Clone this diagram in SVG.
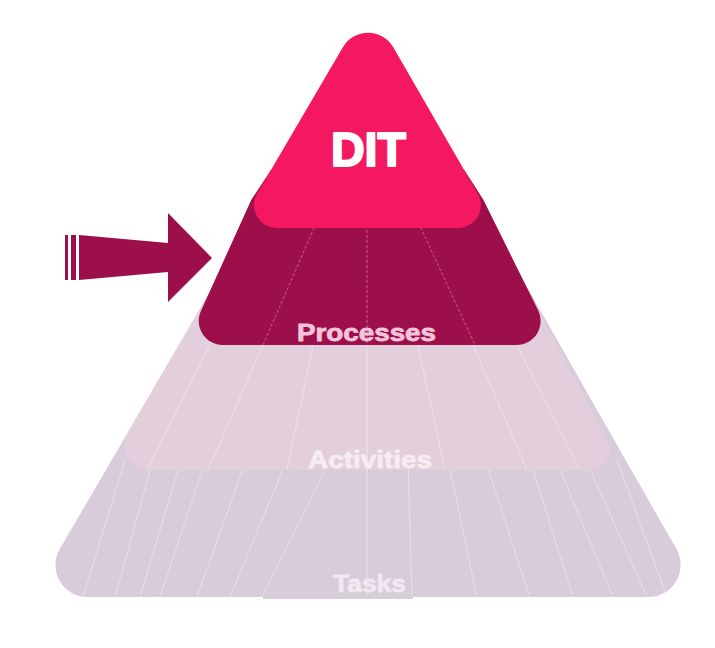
<svg xmlns="http://www.w3.org/2000/svg" width="715" height="648" viewBox="0 0 715 648">
<style>
.lbl{font-family:"Liberation Sans",Arial,sans-serif;font-weight:bold;stroke-linejoin:round}
.grid line{stroke:#ffffff;stroke-width:0.9}
.gl{stroke-opacity:0.45}
.gp{stroke-opacity:0.4}
</style>
<defs>
<clipPath id="cTasks"><path d="M 240.2 240 L 500.2 240 L 676.4 549.1 A 32 32 0 0 1 648.6 597 L 87.4 597 A 32 32 0 0 1 59.8 548.9 Z"/></clipPath>
<clipPath id="cAct"><path d="M 240.2 240 L 501.2 240 L 607.6 440.7 A 20 20 0 0 1 589.9 470 L 149.5 470 A 25 25 0 0 1 127.9 432.4 Z"/></clipPath>
<clipPath id="cProc"><path d="M 271 170 L 464.3 170 L 483.5 200 L 538.1 310.3 A 24 24 0 0 1 516.6 345 L 222.7 345 A 24 24 0 0 1 200.9 311.1 L 251.2 200 Z"/></clipPath>
</defs>
<rect width="715" height="648" fill="#ffffff"/>

<g id="tasks">
<path d="M 240.2 240 L 500.2 240 L 676.4 549.1 A 32 32 0 0 1 648.6 597 L 87.4 597 A 32 32 0 0 1 59.8 548.9 Z" fill="#D8CCDA"/>
<rect x="263" y="560" width="150" height="39" fill="#D8CCDA"/>
<g class="grid gl" clip-path="url(#cTasks)">
<line x1="125" y1="460" x2="83" y2="597"/>
<line x1="153" y1="460" x2="115" y2="597"/>
<line x1="181" y1="460" x2="140" y2="597"/>
<line x1="206" y1="460" x2="160" y2="597"/>
<line x1="246" y1="460" x2="197" y2="597"/>
<line x1="287" y1="460" x2="230" y2="597"/>
<line x1="330" y1="460" x2="262" y2="597"/>
<line x1="367" y1="460" x2="367" y2="597"/>
<line x1="408" y1="460" x2="412" y2="597"/>
<line x1="448" y1="460" x2="477" y2="597"/>
<line x1="485" y1="460" x2="530" y2="597"/>
<line x1="530" y1="460" x2="573" y2="597"/>
<line x1="556" y1="460" x2="613" y2="597"/>
<line x1="586" y1="460" x2="647" y2="597"/>
<line x1="617" y1="460" x2="667" y2="597"/>
</g>
</g>

<g id="activities">
<path d="M 240.2 240 L 501.2 240 L 607.6 440.7 A 20 20 0 0 1 589.9 470 L 149.5 470 A 25 25 0 0 1 127.9 432.4 Z" fill="#E3CFDC"/>
<g class="grid gl" clip-path="url(#cAct)">
<line x1="188.4" y1="300" x2="100" y2="470"/>
<line x1="232.7" y1="300" x2="147" y2="470"/>
<line x1="282.8" y1="300" x2="208" y2="470"/>
<line x1="322.4" y1="300" x2="287" y2="470"/>
<line x1="367" y1="300" x2="367" y2="470"/>
<line x1="408.3" y1="300" x2="445" y2="470"/>
<line x1="453.6" y1="300" x2="527" y2="470"/>
<line x1="494.3" y1="300" x2="580" y2="470"/>
</g>
</g>

<g id="processes">
<path d="M 271 170 L 464.3 170 L 483.5 200 L 538.1 310.3 A 24 24 0 0 1 516.6 345 L 222.7 345 A 24 24 0 0 1 200.9 311.1 L 251.2 200 Z" fill="#9D0F4B"/>
<g class="grid gp" clip-path="url(#cProc)">
<line x1="326.2" y1="200" x2="263" y2="345" stroke-dasharray="3 2"/>
<line x1="367" y1="200" x2="367" y2="345" stroke-dasharray="3 2"/>
<line x1="408" y1="200" x2="475" y2="345" stroke-dasharray="3 2"/>
</g>
</g>

<g id="dit">
<path d="M 342.9 47.3 A 29 29 0 0 1 393.4 47.5 L 477.7 193.5 A 23 23 0 0 1 457.8 228 L 277.2 228 A 23 23 0 0 1 257.3 193.3 Z" fill="#F31860"/>
<text class="lbl" x="331" y="166" font-size="49" textLength="75" lengthAdjust="spacingAndGlyphs" fill="#ffffff" stroke="#ffffff" stroke-width="2">DIT</text>
</g>

<g id="labels">
<text class="lbl" x="297" y="341" font-size="24" textLength="139" lengthAdjust="spacingAndGlyphs" fill="#F3C4DA" stroke="#F3C4DA" stroke-width="0.8">Processes</text>
<text class="lbl" x="308" y="468" font-size="24" textLength="124" lengthAdjust="spacingAndGlyphs" fill="#F6ECF2" stroke="#F6ECF2" stroke-width="0.8">Activities</text>
<text class="lbl" x="333" y="592" font-size="24" textLength="73" lengthAdjust="spacingAndGlyphs" fill="#F0E9F0" stroke="#F0E9F0" stroke-width="0.8">Tasks</text>
</g>

<g id="arrow" fill="#9D0F4B">
<rect x="65" y="235" width="3" height="45"/>
<rect x="71" y="235" width="5" height="45"/>
<polygon points="79,235 168,243 168,213 212,258 168,302 168,272 79,280"/>
</g>
</svg>
